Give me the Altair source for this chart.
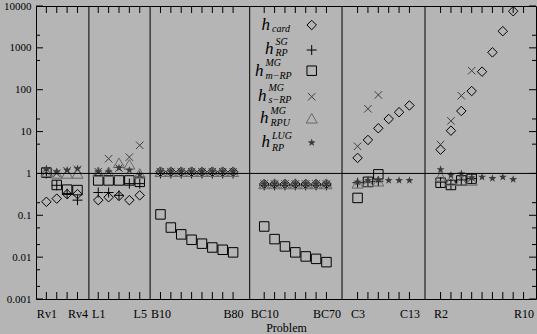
import altair as alt
import pandas as pd

# ---------------- data ----------------
problems = ["Rv1", "Rv2", "Rv3", "Rv4",
            "L1", "L2", "L3", "L4", "L5",
            "B10", "B20", "B30", "B40", "B50", "B60", "B70", "B80",
            "BC10", "BC20", "BC30", "BC40", "BC50", "BC60", "BC70",
            "C3", "C5", "C7", "C9", "C11", "C13",
            "R2", "R3", "R4", "R5", "R6", "R7", "R8", "R9", "R10"]
positions = [1, 2, 3, 4,
             6, 7, 8, 9, 10,
             12, 13, 14, 15, 16, 17, 18, 19,
             22, 23, 24, 25, 26, 27, 28,
             31, 32, 33, 34, 35, 36,
             39, 40, 41, 42, 43, 44, 45, 46, 47]
separators = [5.1, 11.0, 20.6, 29.5, 37.5]
tick_label_names = ["Rv1", "Rv4", "L1", "L5", "B10", "B80", "BC10", "BC70", "C3", "C13", "R2", "R10"]
tick_label_pos = [1, 4, 6, 10, 12, 19, 22, 28, 31, 36, 39, 47]
y_major = [0.001, 0.01, 0.1, 1, 10, 100, 1000, 10000]
y_minor = [2000, 500, 20, 5, 0.2, 0.05, 0.02, 0.005, 0.002]

N = None
h_card = [0.21, 0.25, 0.32, 0.32,
          0.23, 0.27, 0.29, 0.23, 0.30,
          1.1, 1.1, 1.1, 1.1, 1.1, 1.1, 1.1, 1.1,
          0.56, 0.56, 0.56, 0.56, 0.56, 0.56, 0.56,
          2.35, 6.3, 12, 20, 29, 42,
          3.7, 10.5, 31, 93, 270, 780, 2500, 7500, N]
h_sg = [1.0, 0.52, 0.33, 0.23,
        0.35, 0.35, 0.30, 0.57, 0.57,
        1.0, 1.0, 1.0, 1.0, 1.0, 1.0, 1.0, 1.0,
        0.52, 0.52, 0.52, 0.52, 0.52, 0.52, 0.52,
        0.6, 0.63, 0.65, N, N, N,
        0.62, 0.55, 0.7, 0.75, N, N, N, N, N]
h_mrp = [1.05, 0.53, 0.41, 0.40,
         0.68, 0.68, 0.68, 0.68, 0.63,
         0.105, 0.051, 0.035, 0.026, 0.021, 0.017, 0.015, 0.013,
         0.054, 0.027, 0.018, 0.013, 0.0104, 0.0091, 0.0076,
         0.26, 0.63, 0.95, N, N, N,
         0.6, 0.53, 0.68, 0.74, N, N, N, N, N]
h_srp = [1.1, 1.0, 1.15, 1.25,
         1.1, 2.25, 1.35, 2.45, 4.7,
         1.1, 1.1, 1.1, 1.1, 1.1, 1.1, 1.1, 1.1,
         0.56, 0.56, 0.56, 0.56, 0.56, 0.56, 0.56,
         4.45, 35, 75, N, N, N,
         4.9, 18, 72, 285, N, N, N, N, N]
h_rpu = [1.1, 1.0, 1.0, 1.0,
         1.1, 1.1, 1.8, 1.65, 1.0,
         1.1, 1.1, 1.1, 1.1, 1.1, 1.1, 1.1, 1.1,
         0.56, 0.56, 0.56, 0.56, 0.56, 0.56, 0.56,
         0.58, 0.62, 0.65, N, N, N,
         0.85, 0.68, 0.68, 0.68, N, N, N, N, N]
h_lug = [1.3, 1.1, 1.2, 1.3,
         1.1, 1.1, 1.35, 1.2, 0.95,
         1.1, 1.1, 1.1, 1.1, 1.1, 1.1, 1.1, 1.1,
         0.56, 0.56, 0.56, 0.56, 0.56, 0.56, 0.56,
         0.62, 0.68, 0.7, 0.68, 0.68, 0.68,
         1.24, 0.91, 0.98, 0.79, 0.82, 0.76, 0.82, 0.72, N]

series_names = ["card", "sg", "mrp", "srp", "rpu", "lug"]
series_values = [h_card, h_sg, h_mrp, h_srp, h_rpu, h_lug]

rows = []
for name, vals in zip(series_names, series_values):
    for p, x, v in zip(problems, positions, vals):
        if v is not None:
            rows.append({"series": name, "problem": p, "x": x, "v": v})
df = pd.DataFrame(rows)

# ---------------- style ----------------
OX, OY = 36, 6
W, H = 500, 293
BG = "#b5b5b5"
FONT = "Liberation Serif"
PLUS = "M-1,0L1,0M0,-1L0,1"
XSHAPE = "M-1,-1L1,1M-1,1L1,-1"
STAR = ("M0,-1L0.235,-0.324L0.951,-0.309L0.380,0.124L0.588,0.809L0,0.4"
        "L-0.588,0.809L-0.380,0.124L-0.951,-0.309L-0.235,-0.324Z")

styles = {
    "card": dict(shape="diamond", size=90, color="#000000", filled=False),
    "sg": dict(shape=PLUS, size=100, color="#000000", filled=False),
    "mrp": dict(shape="square", size=90, color="#000000", filled=False),
    "srp": dict(shape=XSHAPE, size=56, color="#404040", filled=False),
    "rpu": dict(shape="triangle-up", size=121, color="#686868", filled=False),
    "lug": dict(shape=STAR, size=70, color="#3a3a3a", filled=True),
}

label_expr = " : ".join(
    f"datum.value == {p} ? '{n}'" for p, n in zip(tick_label_pos, tick_label_names)
) + " : ''"

xscale = alt.Scale(domain=[0, 48.2], nice=False, zero=False)
yscale = alt.Scale(type="log", domain=[0.001, 10000], nice=False)

xaxis = alt.Axis(values=tick_label_pos, labelExpr=label_expr, tickSize=0, domain=False,
                 grid=False, labelFont=FONT, labelFontSize=12, labelPadding=9,
                 labelColor="#000000", labelAngle=0, labelFlush=False, labelOverlap=False,
                 title="Problem", titleFont=FONT, titleFontSize=12, titleFontWeight="normal",
                 titleColor="#000000", titlePadding=3)
yaxis = alt.Axis(values=y_major, format="~g", tickSize=0, domain=False, grid=False,
                 labelFont=FONT, labelFontSize=11, labelPadding=5, labelColor="#000000",
                 labelFlush=False, labelOverlap=False, title=None)

X = alt.X("x:Q", scale=xscale, axis=xaxis)
Y = alt.Y("v:Q", scale=yscale, axis=yaxis)

layers = []

# data series (first, so the axes come from here)
for name in series_names:
    st = styles[name]
    layers.append(alt.Chart(df[df.series == name]).mark_point(
        shape=st["shape"], size=st["size"], color=st["color"], filled=st["filled"],
        strokeWidth=1, opacity=1).encode(x=X, y=Y))

# separators and y=1 line
sep_df = pd.DataFrame({"x": separators})
layers.append(alt.Chart(sep_df).mark_rule(color="#000000", strokeWidth=1).encode(x=X))
layers.append(alt.Chart(pd.DataFrame({"v": [1]})).mark_rule(color="#000000", strokeWidth=1).encode(y=Y))

# inward ticks
xt = pd.DataFrame({"x": positions})
for y0, y1 in [(H, H - 7), (0, 7)]:
    layers.append(alt.Chart(xt).mark_rule(color="#000000", strokeWidth=1).encode(
        x=X, y=alt.value(y0), y2=alt.value(y1)))
for vals, ln in [(y_major, 7), (y_minor, 4)]:
    yt = pd.DataFrame({"v": vals})
    for x0, x1 in [(0, ln), (W, W - ln)]:
        layers.append(alt.Chart(yt).mark_rule(color="#000000", strokeWidth=1).encode(
            y=Y, x=alt.value(x0), x2=alt.value(x1)))

# ---------------- manual legend (pixel coordinates of the page) ----------------
leg_h_x = [261.5, 265, 255, 258, 260, 261.5]
leg_h_y = [30, 53.5, 76, 101, 122.7, 146.7]
leg_sup = ["", "SG", "MG", "MG", "MG", "LUG"]
leg_sup_y = [0, 44.5, 66, 90.5, 114, 139]
leg_sub = ["card", "RP", "m\u2212RP", "s\u2212RP", "RPU", "RP"]
leg_sub_y = [32, 55.5, 79, 103, 126, 151]
leg_sym_y = [25, 50, 70.7, 96.7, 118.3, 142.7]
leg_sym_x = 311.7


def txt(t, px, py, size):
    return alt.Chart(pd.DataFrame({"a": [0]})).mark_text(
        text=t, font=FONT, fontStyle="italic", fontSize=size, align="left",
        baseline="alphabetic", color="#000000").encode(
        x=alt.value(px - OX), y=alt.value(py - OY))


for i in range(6):
    layers.append(txt("h", leg_h_x[i], leg_h_y[i], 17))
    if leg_sup[i]:
        layers.append(txt(leg_sup[i], leg_h_x[i] + 10.5, leg_sup_y[i], 10))
    layers.append(txt(leg_sub[i], leg_h_x[i] + 10.5, leg_sub_y[i], 10))

for name, sy in zip(series_names, leg_sym_y):
    st = styles[name]
    layers.append(alt.Chart(pd.DataFrame({"a": [0]})).mark_point(
        shape=st["shape"], size=st["size"], color=st["color"], filled=st["filled"],
        strokeWidth=1, opacity=1).encode(x=alt.value(leg_sym_x - OX), y=alt.value(sy - OY)))

chart = alt.layer(*layers).properties(
    width=W, height=H, background=BG,
    autosize=alt.AutoSizeParams(type="none"),
    padding={"left": OX, "top": OY, "right": 1, "bottom": 334 - OY - H},
).configure_view(stroke="#000000", strokeWidth=1, fill=BG)

chart.save("out.html", embed_options={"renderer": "svg", "actions": False})
